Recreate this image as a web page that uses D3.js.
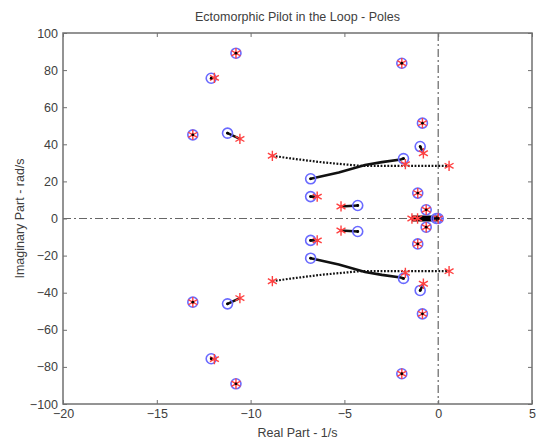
<!DOCTYPE html>
<html>
<head>
<meta charset="utf-8">
<script src="https://cdn.jsdelivr.net/npm/d3@7"></script>
<style>
  body { margin: 0; background: #fff; }
  text { font-family: "Liberation Sans", Arial, sans-serif; fill: #404040; }
</style>
</head>
<body>
<script>
// axis ticks
var xTicks = [-20, -15, -10, -5, 0, 5];
var yTicks = [-100, -80, -60, -40, -20, 0, 20, 40, 60, 80, 100];

// open loop poles (blue circles) [real, imag]
var openPoles = [
  [-10.78, 89.1], [-12.1, 75.6], [-13.08, 45.1], [-11.23, 46.0], [-1.94, 83.7],
  [-0.84, 51.4], [-0.96, 38.8], [-1.85, 32.3], [-6.8, 21.4], [-6.8, 11.8],
  [-4.29, 7.0], [-1.09, 13.7], [-0.64, 4.7], [0, 0], [-0.1, 0],
  [-10.78, -89.1], [-12.1, -75.6], [-13.08, -45.1], [-11.23, -46.0], [-1.94, -83.7],
  [-0.84, -51.4], [-0.96, -38.8], [-1.85, -32.3], [-6.8, -21.4], [-6.8, -11.8],
  [-4.29, -7.0], [-1.09, -13.7], [-0.64, -4.7]
];

// closed loop poles (red stars)
var closedPoles = [
  [-10.78, 89.1], [-11.93, 75.8], [-13.08, 45.1], [-10.57, 42.9], [-8.84, 33.8],
  [-1.94, 83.7], [-0.84, 51.4], [-0.79, 35.2], [-1.75, 29.3], [0.58, 28.4],
  [-6.45, 11.8], [-5.18, 6.5], [-1.09, 13.7], [-0.64, 4.7], [-1.4, 0], [-1.1, 0], [0, 0],
  [-10.78, -89.1], [-11.93, -75.8], [-13.08, -45.1], [-10.57, -42.9], [-8.84, -33.8],
  [-1.94, -83.7], [-0.84, -51.4], [-0.79, -35.2], [-1.75, -29.3], [0.58, -28.4],
  [-6.45, -11.8], [-5.18, -6.5], [-1.09, -13.7], [-0.64, -4.7]
];

// pole trajectories, drawn nearly solid
var solidPaths = [
  [[-11.23, 46.0], [-10.57, 42.9]],
  [[-6.8, 21.4], [-5.3, 24.8], [-3.9, 28.8], [-3.0, 30.4], [-2.0, 31.8], [-1.85, 32.3]],
  [[-6.8, 11.8], [-6.45, 11.8]],
  [[-5.18, 6.5], [-4.29, 7.0]],
  [[-0.96, 38.8], [-0.79, 35.2]],
  [[-11.23, -46.0], [-10.57, -42.9]],
  [[-6.8, -21.4], [-5.3, -24.8], [-3.9, -28.8], [-3.0, -30.4], [-2.0, -31.8], [-1.85, -32.3]],
  [[-6.8, -11.8], [-6.45, -11.8]],
  [[-5.18, -6.5], [-4.29, -7.0]],
  [[-0.96, -38.8], [-0.79, -35.2]]
];

// pole trajectories, sparse dots
var dottedPaths = [
  [[-8.84, 33.8], [-7.95, 32.5], [-6.19, 30.3], [-4.15, 28.4], [0.58, 28.4]],
  [[-8.84, -33.8], [-7.95, -32.5], [-6.19, -30.3], [-4.15, -28.4], [0.58, -28.4]]
];

// real axis trajectory
var realPath = [[-1.4, 0], [0, 0]];

var W = 539, H = 443;
var margin = { top: 33, right: 7, bottom: 39, left: 63 },
  width = W - margin.left - margin.right,
  height = H - margin.top - margin.bottom;

var svg = d3.select("body").append("svg")
  .attr("width", W)
  .attr("height", H);

var g = svg.append("g")
  .attr("transform", "translate(" + margin.left + "," + margin.top + ")");

var x = d3.scaleLinear().domain([-20, 5]).range([0, width]);
var y = d3.scaleLinear().domain([-100, 100]).range([height, 0]);

// zero lines
g.append("line")
  .attr("x1", 0).attr("x2", width)
  .attr("y1", y(0)).attr("y2", y(0))
  .attr("stroke", "#666").attr("stroke-width", 1.2)
  .attr("stroke-dasharray", "8,3,2,3");
g.append("line")
  .attr("x1", x(0)).attr("x2", x(0))
  .attr("y1", 0).attr("y2", height)
  .attr("stroke", "#666").attr("stroke-width", 1.2)
  .attr("stroke-dasharray", "8,3,2,3");

var line = d3.line()
  .x(function(d) { return x(d[0]); })
  .y(function(d) { return y(d[1]); });

g.selectAll(".dotted").data(dottedPaths).enter().append("path")
  .attr("d", line)
  .attr("fill", "none")
  .attr("stroke", "#111")
  .attr("stroke-width", 2.2)
  .attr("stroke-dasharray", "1.8,1.6");

g.selectAll(".solid").data(solidPaths).enter().append("path")
  .attr("d", line)
  .attr("fill", "none")
  .attr("stroke", "#111")
  .attr("stroke-width", 2.6)
  .attr("stroke-linecap", "round");

g.append("path")
  .datum(realPath)
  .attr("d", line)
  .attr("fill", "none")
  .attr("stroke", "#000")
  .attr("stroke-width", 6);

// blue circles
g.selectAll(".open").data(openPoles).enter().append("circle")
  .attr("cx", function(d) { return x(d[0]); })
  .attr("cy", function(d) { return y(d[1]); })
  .attr("r", 5)
  .attr("fill", "none")
  .attr("stroke", "#6a6aff")
  .attr("stroke-width", 1.6);

// red stars
var star = d3.symbol().type(d3.symbolAsterisk).size(75);
g.selectAll(".closed").data(closedPoles).enter().append("path")
  .attr("d", star)
  .attr("transform", function(d) { return "translate(" + x(d[0]) + "," + y(d[1]) + ")"; })
  .attr("fill", "none")
  .attr("stroke", "#ff4040")
  .attr("stroke-width", 1.4);

// trajectory dot at each pole
g.selectAll(".dot").data(openPoles).enter().append("circle")
  .attr("cx", function(d) { return x(d[0]); })
  .attr("cy", function(d) { return y(d[1]); })
  .attr("r", 1.4)
  .attr("fill", "#000");

// axes
function styleAxis(sel) {
  sel.selectAll(".domain").remove();
  sel.selectAll("line").attr("stroke", "#707070");
  sel.selectAll("text").style("font-size", "12.5px").attr("fill", "#404040");
}

g.append("g")
  .attr("transform", "translate(0," + height + ")")
  .call(d3.axisBottom(x).tickValues(xTicks).tickSize(-4).tickPadding(5).tickFormat(d3.format("d")))
  .call(styleAxis);
g.append("g")
  .call(d3.axisTop(x).tickValues(xTicks).tickSize(-4).tickFormat(""))
  .call(styleAxis);
g.append("g")
  .call(d3.axisLeft(y).tickValues(yTicks).tickSize(-4).tickPadding(5).tickFormat(d3.format("d")))
  .call(styleAxis);
g.append("g")
  .attr("transform", "translate(" + width + ",0)")
  .call(d3.axisRight(y).tickValues(yTicks).tickSize(-4).tickFormat(""))
  .call(styleAxis);

g.append("rect")
  .attr("width", width).attr("height", height)
  .attr("fill", "none")
  .attr("stroke", "#707070")
  .attr("stroke-width", 1.5);

// labels
svg.append("text")
  .attr("x", margin.left + width / 2).attr("y", 21)
  .attr("text-anchor", "middle")
  .style("font-size", "12.5px")
  .text("Ectomorphic Pilot in the Loop - Poles");
svg.append("text")
  .attr("x", margin.left + width / 2).attr("y", 437)
  .attr("text-anchor", "middle")
  .style("font-size", "12.5px")
  .text("Real Part - 1/s");
svg.append("text")
  .attr("transform", "translate(24," + (margin.top + height / 2) + ") rotate(-90)")
  .attr("text-anchor", "middle")
  .style("font-size", "12.5px")
  .text("Imaginary Part - rad/s");
</script>
</body>
</html>
